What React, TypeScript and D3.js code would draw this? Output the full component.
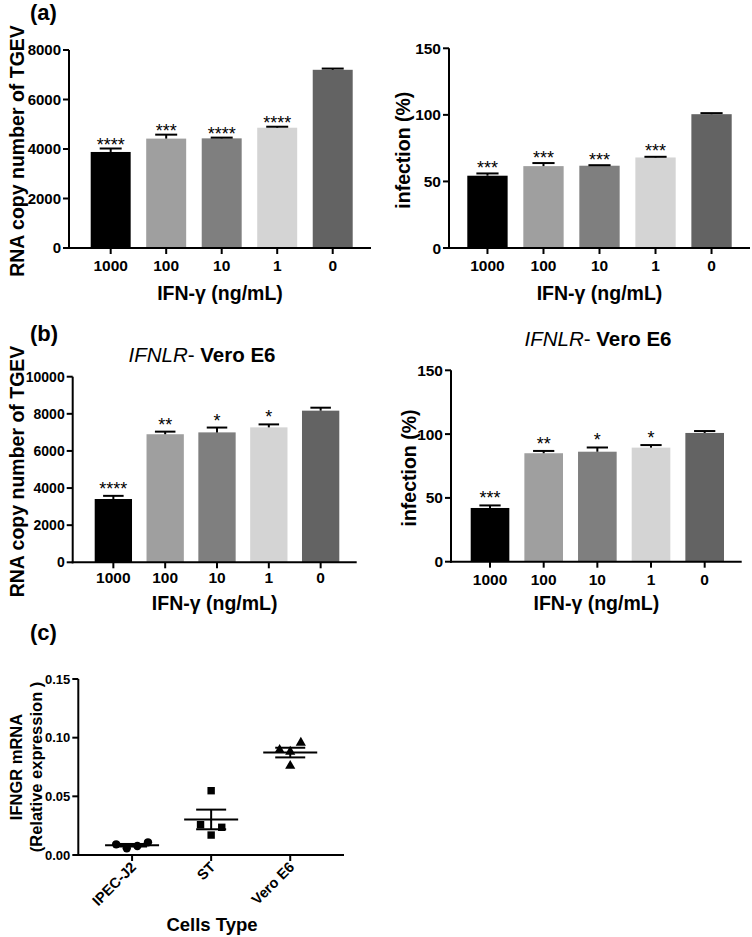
import React from "react";
import * as d3 from "d3";

// ---------- data ----------
const doses = ["1000", "100", "10", "1", "0"];
const barColors = ["#000000", "#9f9f9f", "#7f7f7f", "#d4d4d4", "#636363"];

const rnaA = [3880, 4420, 4430, 4860, 7200];
const rnaAErr = [140, 160, 30, 40, 50];
const rnaASig = ["****", "***", "****", "****", ""];

const infA = [54.3, 61.5, 61.8, 68, 100.5];
const infAErr = [1.7, 2.3, 0.4, 0.5, 0.8];
const infASig = ["***", "***", "***", "***", ""];

const rnaB = [3410, 6900, 7000, 7270, 8170];
const rnaBErr = [170, 140, 260, 160, 160];
const rnaBSig = ["****", "**", "*", "*", ""];

const infB = [42.1, 85, 86.2, 89.4, 100.9];
const infBErr = [2, 1.8, 3.3, 2, 1.5];
const infBSig = ["***", "**", "*", "*", ""];

const rnaTicksA = [0, 2000, 4000, 6000, 8000];
const rnaTicksB = [0, 2000, 4000, 6000, 8000, 10000];
const infTicks = [0, 50, 100, 150];

const cellTypes = ["IPEC-J2", "ST", "Vero E6"];
const ipecValues = [0.0091, 0.0057, 0.0077, 0.0108];
const stValues = [0.0548, 0.0258, 0.0236, 0.017];
const veroValues = [0.0895, 0.088, 0.0957, 0.076];
const cTicks = [0, 0.05, 0.1, 0.15];
// horizontal jitter slots (as laid out in the reference scatter)
const ipecSlots = [-1.5, -0.5, 0.5, 1.5];
const stSlots = [0, -1, 1, 0];
const veroSlots = [-1, 0, 1, 0];

const FONT = "'Liberation Sans', Arial, Helvetica, sans-serif";

type BarProps = {
  values: number[];
  errs: number[];
  sigs: string[];
  yMax: number;
  ticks: number[];
  yTitle: string;
  ax: number;
  axEnd: number;
  yTop: number;
  y0: number;
  barStart: number;
  barEnd: number;
  yTitleX: number;
  xTitleY: number;
  tickLabelY: number;
  yTickFont: number;
  sigOffset: number;
};

function BarPanel(p: BarProps) {
  const y = d3.scaleLinear().domain([0, p.yMax]).range([p.y0, p.yTop]);
  const x = d3
    .scaleBand<string>()
    .domain(doses)
    .range([p.barStart, p.barEnd])
    .paddingInner(0.28)
    .paddingOuter(0);
  const bw = x.bandwidth();
  const cap = bw * 0.55;
  return (
    <g fontFamily={FONT}>
      {doses.map((d, i) => (
        <rect
          key={"b" + d}
          x={x(d)}
          y={y(p.values[i])}
          width={bw}
          height={p.y0 - y(p.values[i])}
          fill={barColors[i]}
        />
      ))}
      {doses.map((d, i) => {
        const cx = (x(d) as number) + bw / 2;
        const top = y(p.values[i] + p.errs[i]);
        return (
          <g key={"e" + d} stroke="#000" strokeWidth={2}>
            <line x1={cx} x2={cx} y1={y(p.values[i])} y2={top} />
            <line x1={cx - cap / 2} x2={cx + cap / 2} y1={top} y2={top} />
          </g>
        );
      })}
      {doses.map((d, i) => {
        const cx = (x(d) as number) + bw / 2;
        const top = y(p.values[i] + p.errs[i]);
        return (
          <text
            key={"s" + d}
            x={cx}
            y={top + p.sigOffset}
            textAnchor="middle"
            fontSize={18}
            fill="#000"
          >
            {p.sigs[i]}
          </text>
        );
      })}
      {/* axes */}
      <line x1={p.ax} x2={p.ax} y1={p.y0 + 1} y2={p.yTop} stroke="#000" strokeWidth={2} />
      <line x1={p.ax - 1} x2={p.axEnd} y1={p.y0} y2={p.y0} stroke="#000" strokeWidth={2} />
      {p.ticks.map((t) => (
        <g key={"yt" + t}>
          <line x1={p.ax - 6} x2={p.ax} y1={y(t)} y2={y(t)} stroke="#000" strokeWidth={2} />
          <text
            x={p.ax - 8}
            y={y(t)}
            dy="0.36em"
            textAnchor="end"
            fontSize={p.yTickFont}
            fontWeight="bold"
          >
            {t}
          </text>
        </g>
      ))}
      {doses.map((d) => {
        const cx = (x(d) as number) + bw / 2;
        return (
          <g key={"xt" + d}>
            <line x1={cx} x2={cx} y1={p.y0} y2={p.y0 + 6} stroke="#000" strokeWidth={2} />
            <text x={cx} y={p.tickLabelY} textAnchor="middle" fontSize={15.5} fontWeight="bold">
              {d}
            </text>
          </g>
        );
      })}
      <text
        transform={`translate(${p.yTitleX},${(p.y0 + p.yTop) / 2 + 2}) rotate(-90)`}
        dy="0.36em"
        textAnchor="middle"
        fontSize={19.5}
        fontWeight="bold"
      >
        {p.yTitle}
      </text>
      <text
        x={(p.ax + p.axEnd) / 2}
        y={p.xTitleY}
        textAnchor="middle"
        fontSize={19.5}
        fontWeight="bold"
      >
        IFN-γ (ng/mL)
      </text>
    </g>
  );
}

function ScatterPanel() {
  const ax = 78.3;
  const axEnd = 344;
  const y0 = 855;
  const yTop = 679;
  const y = d3.scaleLinear().domain([0, 0.15]).range([y0, yTop]);
  const x = d3.scalePoint<string>().domain(cellTypes).range([ax, axEnd]).padding(0.68);
  const groups = [
    { name: cellTypes[0], vals: ipecValues, slots: ipecSlots, shape: d3.symbolCircle, size: 55 },
    { name: cellTypes[1], vals: stValues, slots: stSlots, shape: d3.symbolSquare, size: 55 },
    { name: cellTypes[2], vals: veroValues, slots: veroSlots, shape: d3.symbolTriangle, size: 45 },
  ];
  const spacing = 10.6;
  return (
    <g fontFamily={FONT}>
      {groups.map((g) => {
        const cx = x(g.name) as number;
        const mean = d3.mean(g.vals) as number;
        const sem = (d3.deviation(g.vals) as number) / Math.sqrt(g.vals.length);
        const sym = d3.symbol().type(g.shape).size(g.size);
        return (
          <g key={g.name}>
            {g.vals.map((v, i) => (
              <path
                key={i}
                d={sym() as string}
                transform={`translate(${cx + g.slots[i] * spacing},${y(v)})`}
                fill="#000"
              />
            ))}
            <g stroke="#000" strokeWidth={2}>
              <line x1={cx - 27} x2={cx + 27} y1={y(mean)} y2={y(mean)} />
              <line x1={cx} x2={cx} y1={y(mean - sem)} y2={y(mean + sem)} />
              <line x1={cx - 15} x2={cx + 15} y1={y(mean + sem)} y2={y(mean + sem)} />
              <line x1={cx - 15} x2={cx + 15} y1={y(mean - sem)} y2={y(mean - sem)} />
            </g>
          </g>
        );
      })}
      <line x1={ax} x2={ax} y1={y0 + 1} y2={yTop} stroke="#000" strokeWidth={2} />
      <line x1={ax - 1} x2={axEnd} y1={y0} y2={y0} stroke="#000" strokeWidth={2} />
      {cTicks.map((t) => (
        <g key={"ct" + t}>
          <line x1={ax - 6} x2={ax} y1={y(t)} y2={y(t)} stroke="#000" strokeWidth={2} />
          <text x={ax - 8} y={y(t)} dy="0.36em" textAnchor="end" fontSize={13} fontWeight="bold">
            {d3.format(".2f")(t)}
          </text>
        </g>
      ))}
      {cellTypes.map((c) => {
        const cx = x(c) as number;
        return (
          <g key={"cx" + c}>
            <line x1={cx} x2={cx} y1={y0} y2={y0 + 6} stroke="#000" strokeWidth={2} />
            <text
              transform={`translate(${cx + 5},${y0 + 13}) rotate(-45)`}
              textAnchor="end"
              fontSize={14.5}
              fontWeight="bold"
            >
              {c}
            </text>
          </g>
        );
      })}
      <text
        transform={`translate(16.5,${(y0 + yTop) / 2}) rotate(-90)`}
        dy="0.36em"
        textAnchor="middle"
        fontSize={16.5}
        fontWeight="bold"
      >
        IFNGR mRNA
      </text>
      <text
        transform={`translate(36,${(y0 + yTop) / 2}) rotate(-90)`}
        dy="0.36em"
        textAnchor="middle"
        fontSize={16.5}
        fontWeight="bold"
      >
        (Relative expression )
      </text>
      <text x={212} y={931} textAnchor="middle" fontSize={18.5} fontWeight="bold">
        Cells Type
      </text>
    </g>
  );
}

function Title({ x, y }: { x: number; y: number }) {
  return (
    <text x={x} y={y} textAnchor="middle" fontSize={20.5} fontFamily={FONT}>
      <tspan fontStyle="italic">IFNLR</tspan>
      <tspan>- </tspan>
      <tspan fontWeight="bold">Vero E6</tspan>
    </text>
  );
}

export default function App() {
  return (
    <svg
      width={752}
      height={937}
      viewBox="0 0 752 937"
      style={{ position: "absolute", left: 0, top: 0, background: "#fff" }}
    >
      <rect width={752} height={937} fill="#fff" />
      <g fontFamily={FONT} fontWeight="bold" fontSize={22}>
        <text x={30} y={20}>(a)</text>
        <text x={30} y={341}>(b)</text>
        <text x={30} y={640}>(c)</text>
      </g>
      <BarPanel
        values={rnaA}
        errs={rnaAErr}
        sigs={rnaASig}
        yMax={8000}
        ticks={rnaTicksA}
        yTitle="RNA copy number of TGEV"
        ax={69}
        axEnd={371}
        yTop={50}
        y0={248}
        barStart={90.7}
        barEnd={352.7}
        yTitleX={17}
        xTitleY={300}
        tickLabelY={271}
        yTickFont={15}
        sigOffset={2}
      />
      <BarPanel
        values={infA}
        errs={infAErr}
        sigs={infASig}
        yMax={150}
        ticks={infTicks}
        yTitle="infection (%)"
        ax={449}
        axEnd={750}
        yTop={48.3}
        y0={248}
        barStart={467.3}
        barEnd={731.7}
        yTitleX={403}
        xTitleY={300}
        tickLabelY={271}
        yTickFont={15.5}
        sigOffset={0.5}
      />
      <BarPanel
        values={rnaB}
        errs={rnaBErr}
        sigs={rnaBSig}
        yMax={10000}
        ticks={rnaTicksB}
        yTitle="RNA copy number of TGEV"
        ax={72.7}
        axEnd={356.7}
        yTop={376.7}
        y0={562.3}
        barStart={94.7}
        barEnd={339.3}
        yTitleX={17}
        xTitleY={610}
        tickLabelY={583}
        yTickFont={14}
        sigOffset={-1}
      />
      <BarPanel
        values={infB}
        errs={infBErr}
        sigs={infBSig}
        yMax={150}
        ticks={infTicks}
        yTitle="infection (%)"
        ax={451}
        axEnd={741.7}
        yTop={370.3}
        y0={561.7}
        barStart={470.7}
        barEnd={724}
        yTitleX={409}
        xTitleY={610}
        tickLabelY={585}
        yTickFont={15.5}
        sigOffset={-1}
      />
      <Title x={202} y={362} />
      <Title x={598} y={346} />
      <ScatterPanel />
    </svg>
  );
}
